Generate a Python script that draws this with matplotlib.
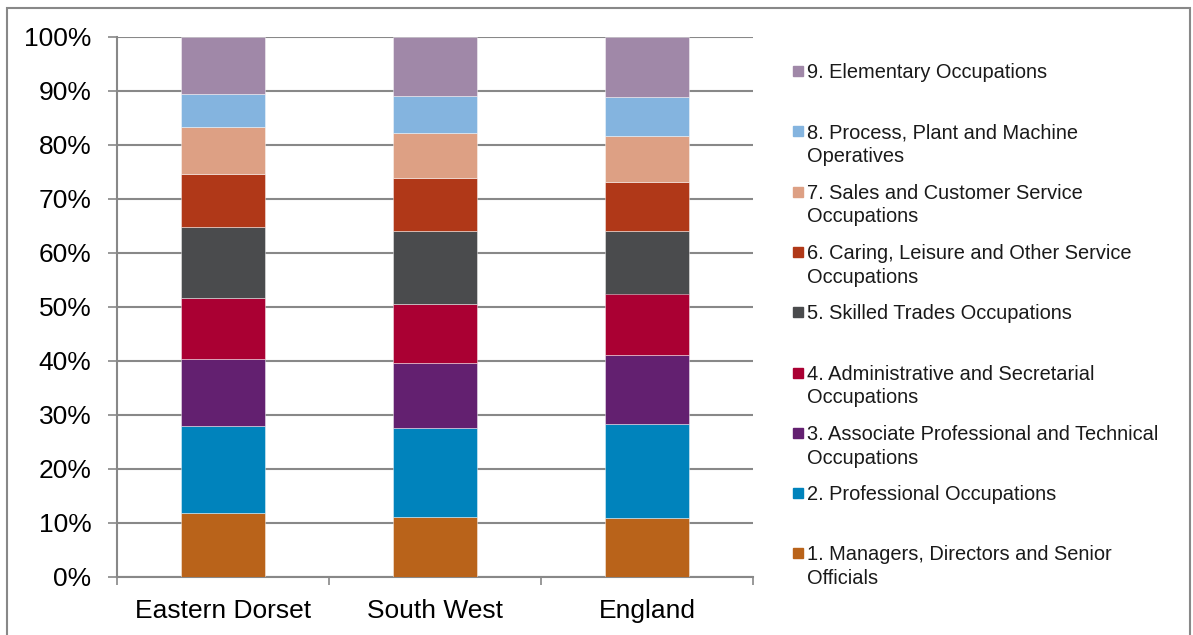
import numpy as np
import matplotlib
matplotlib.use("Agg")
import matplotlib.pyplot as plt
from matplotlib.patches import Rectangle

plt.rcParams['font.family'] = ['Liberation Sans', 'DejaVu Sans']

# areas on the x axis
areas = ["Eastern Dorset", "South West", "England"]

# occupation groups, bottom to top
groups = [
    "1. Managers, Directors and Senior\nOfficials",
    "2. Professional Occupations",
    "3. Associate Professional and Technical\nOccupations",
    "4. Administrative and Secretarial\nOccupations",
    "5. Skilled Trades Occupations",
    "6. Caring, Leisure and Other Service\nOccupations",
    "7. Sales and Customer Service\nOccupations",
    "8. Process, Plant and Machine\nOperatives",
    "9. Elementary Occupations",
]

# share of employment (%), one list per group: Eastern Dorset, South West, England
managers = [11.9, 11.1, 10.9]
professional = [16.1, 16.5, 17.5]
associate = [12.4, 12.1, 12.8]
admin = [11.3, 10.9, 11.3]
skilled = [13.2, 13.5, 11.5]
caring = [9.7, 9.8, 9.2]
sales = [8.8, 8.4, 8.5]
process = [6.1, 6.7, 7.1]
elementary = [10.5, 11.0, 11.2]

series = [managers, professional, associate, admin, skilled,
          caring, sales, process, elementary]

colors = ["#B9631A", "#0083BC", "#632070", "#AA0033", "#4A4B4D",
          "#B03818", "#DDA084", "#84B4DF", "#A088A8"]

W, H = 1193, 635
fig = plt.figure(figsize=(W / 100, H / 100), dpi=100)
ax = fig.add_axes([117 / W, 1 - 577 / H, (753 - 117) / W, (577 - 37) / H])

x = np.arange(len(areas))
bottom = np.zeros(len(areas))
for vals, col in zip(series, colors):
    ax.bar(x, vals, width=0.4, bottom=bottom, color=col,
           edgecolor=(1, 1, 1, 0.5), linewidth=0.6, zorder=3)
    bottom += np.array(vals)

ax.set_xlim(-0.5, len(areas) - 0.5)
ax.set_ylim(0, 100)
ax.set_yticks(np.arange(0, 101, 10))
ax.set_yticklabels([f"{v}%" for v in range(0, 101, 10)])
ax.yaxis.grid(True, color="#888888", linewidth=1.5, zorder=0)

ax.set_xticks(x)
ax.set_xticklabels(areas)
ax.set_xticks(np.arange(-0.5, len(areas), 1), minor=True)
ax.tick_params(axis="x", which="major", length=0, pad=16, labelsize=19)
ax.tick_params(axis="x", which="minor", length=6, width=1.2, color="#888888")
ax.tick_params(axis="y", length=6.5, width=1.2, color="#888888", pad=12,
               labelsize=19)

for s in ["top", "right"]:
    ax.spines[s].set_visible(False)
for s in ["left", "bottom"]:
    ax.spines[s].set_color("#888888")
    ax.spines[s].set_linewidth(1.5)

# legend drawn by hand so each entry sits on a fixed slot
for k, i in enumerate(range(len(groups) - 1, -1, -1)):
    y_top = 71 + 60.3 * k
    fig.patches.append(Rectangle((793 / W, 1 - (y_top + 5) / H), 10 / W, 10 / H,
                                 transform=fig.transFigure, color=colors[i]))
    fig.text(807 / W, 1 - (y_top - 8) / H, groups[i], fontsize=14.4,
             va="top", ha="left", linespacing=1.32, color="#1a1a1a")

# chart border
fig.patches.append(Rectangle((7 / W, -0.01), (1190 - 7) / W, 1 - 8 / H + 0.01,
                             transform=fig.transFigure, fill=False,
                             edgecolor="#888888", linewidth=1.5))

fig.savefig("out.png", dpi=100)
